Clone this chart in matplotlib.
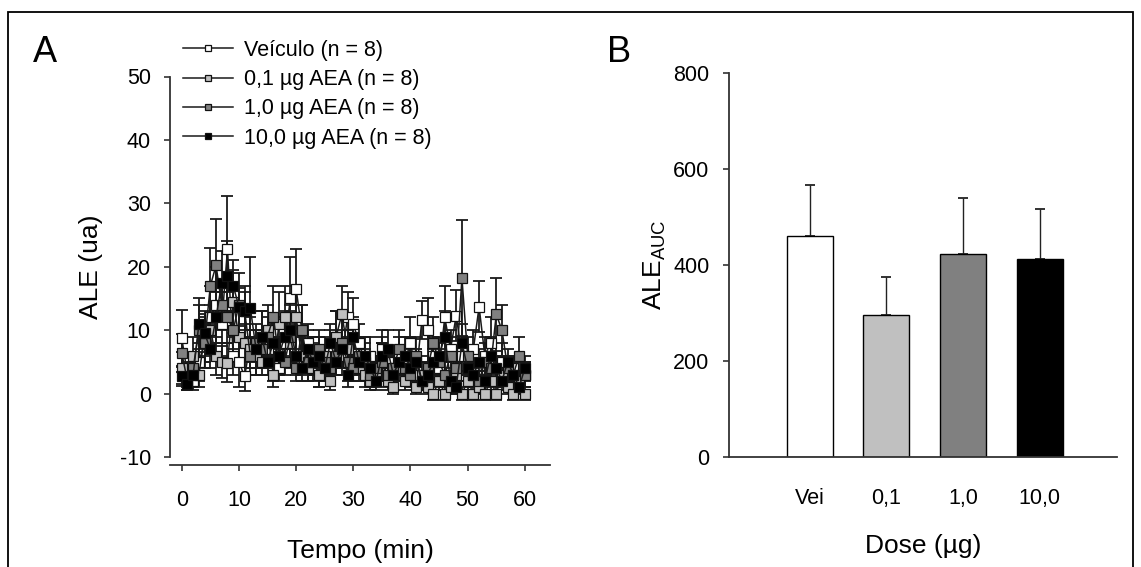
import matplotlib
matplotlib.use("Agg")
import matplotlib.pyplot as plt
import numpy as np
from matplotlib.patches import Rectangle

plt.rcParams['font.family'] = ['Liberation Sans', 'DejaVu Sans']
plt.rcParams['axes.unicode_minus'] = False
plt.rcParams['mathtext.fontset'] = 'custom'
plt.rcParams['mathtext.rm'] = 'Liberation Sans'
plt.rcParams['mathtext.it'] = 'Liberation Sans'

# ---------------- Data ----------------
time_min = list(range(0, 61))

veh_mean = [8.8, 3, 2, 5, 8, 12, 14, 11, 22.8, 6, 5, 2.7, 8, 6, 9, 7, 5, 4, 8, 15,
            16.5, 10, 8, 6, 3, 4, 7, 9, 6, 12, 11, 8, 5, 6, 4, 7, 5, 4, 6, 5,
            8, 3, 11.6, 10, 6, 4, 12, 7, 12.3, 6, 4, 7, 13.7, 6, 8, 4, 5, 3, 4, 2, 3]
veh_sem = [4.4, 2, 1.5, 3, 4, 5, 6, 5, 8.3, 3, 4, 2.3, 4, 3, 4, 3, 3, 2, 4, 6.5,
           6.3, 4, 3, 3, 2, 2, 3, 4, 3, 4, 4, 3, 2, 3, 2, 3, 2, 2, 3, 2,
           4, 2, 3, 5, 3, 2, 5, 3, 4, 3, 2, 3, 4, 3, 4, 2, 3, 2, 2, 1.5, 2]

d01_mean = [4, 2, 6, 3, 9, 10, 6, 5, 4.9, 14.5, 9, 8, 7, 6, 5, 10, 3, 11, 12, 8,
            12, 6, 4, 5, 3, 6, 2, 9, 12.5, 7, 5, 4, 3, 2, 3, 5, 2, 1, 4, 2,
            6, 1, 3, 1, 0, 2, 0, 1, 3, 0, 2, 0, 1, 0, 2, 0, 3, 1, 0, 2, 0]
d01_sem = [2.5, 1.5, 3, 2, 4, 4, 3, 2.5, 3, 5, 4, 3, 3, 3, 2, 4, 2, 5, 5, 3,
           5, 3, 2, 3, 2, 3, 1.5, 4, 4.5, 3, 3, 2, 2, 1.5, 2, 3, 1.5, 1, 2, 1.5,
           3, 1, 2, 1, 1, 1.5, 1, 1, 2, 1, 1.5, 1, 1, 1, 1.5, 1, 2, 1, 1, 1.5, 1]

d10_mean = [6.4, 2, 4, 10, 8, 17, 20.2, 14, 12, 10, 14, 13, 6, 8, 7, 9, 12, 6, 5, 9,
            4, 10, 5, 6, 7, 5, 4, 6, 8, 5, 4, 6, 5, 3, 4, 5, 3, 4, 7, 4,
            3, 6, 2, 4, 8, 5, 3, 6, 4, 18.2, 6, 3, 2, 5, 4, 12.5, 10, 4, 3, 6, 3]
d10_sem = [3, 1.5, 2, 4, 3, 6, 7.3, 4, 4, 3, 5, 4, 3, 3, 3, 3, 5, 3, 2, 4,
           2, 4, 3, 3, 3, 2, 2, 3, 4, 3, 2, 3, 3, 2, 2, 3, 2, 2, 3, 2,
           2, 3, 1.5, 2, 4, 3, 2, 3, 2, 9.1, 3, 2, 1.5, 3, 2, 5.8, 4, 2, 2, 3, 2]

d100_mean = [2.7, 1.5, 3, 11, 9.5, 7, 12, 17.5, 18.5, 17, 13.7, 13, 13.5, 7, 9, 5, 8, 6, 9, 10,
             6, 4, 7, 5, 6, 4, 8, 5, 7, 3, 9, 5, 6, 4, 2, 6, 7, 3, 5, 6,
             4, 5, 2, 3, 5, 6, 9, 2, 1, 8, 4, 3, 5, 2, 6, 4, 2, 5, 3, 1, 4]
d100_sem = [1.5, 1, 2, 4, 3, 3, 4, 5, 5.5, 4, 3, 3, 8, 3, 4, 2, 3, 3, 4, 4,
            3, 2, 3, 2, 3, 2, 3, 2, 3, 2, 3, 2, 3, 2, 1.5, 3, 3, 2, 2, 3,
            2, 2, 1.5, 2, 2, 3, 4, 1.5, 1, 3, 2, 2, 2, 1.5, 3, 2, 1.5, 2, 2, 1, 2]

series_labels = ['Veículo (n = 8)', '0,1 µg AEA (n = 8)', '1,0 µg AEA (n = 8)', '10,0 µg AEA (n = 8)']
series_colors = ['white', '#c0c0c0', '#808080', 'black']

dose_labels = ['Vei', '0,1', '1,0', '10,0']
auc_mean = [460, 296, 422, 412]
auc_sem = [106, 80, 117, 105]
bar_colors = ['white', '#c0c0c0', '#808080', 'black']

# ---------------- Figure ----------------
W, H = 1141, 567
fig = plt.figure(figsize=(W / 100, H / 100), dpi=100)

def fr(x0, y0, x1, y1):
    return [x0 / W, 1 - y1 / H, (x1 - x0) / W, (y1 - y0) / H]

spine_col = '#333333'

# Panel A
axA = fig.add_axes(fr(170.3, 76.5, 550, 457))
means = [veh_mean, d01_mean, d10_mean, d100_mean]
sems = [veh_sem, d01_sem, d10_sem, d100_sem]
handles = []
for m, s, c, lab in zip(means, sems, series_colors, series_labels):
    axA.errorbar(time_min, m, yerr=s, fmt='none', ecolor='#1a1a1a', elinewidth=1.3,
                 capsize=4.0, capthick=1.3, zorder=2)
    h, = axA.plot(time_min, m, '-', color='#1a1a1a', lw=1.1, marker='s', markersize=6.5,
                  markerfacecolor=c, markeredgecolor='#111111', markeredgewidth=0.9,
                  label=lab, zorder=3)
    handles.append(h)
axA.set_xlim(-2, 64.4)
axA.set_ylim(-10, 50)
axA.set_xticks([0, 10, 20, 30, 40, 50, 60])
axA.set_yticks([-10, 0, 10, 20, 30, 40, 50])
for sp in ['top', 'right']:
    axA.spines[sp].set_visible(False)
axA.spines['bottom'].set_position(('outward', 6))
for sp in ['left', 'bottom']:
    axA.spines[sp].set_color(spine_col)
    axA.spines[sp].set_linewidth(1.3)
axA.tick_params(axis='both', direction='out', length=4, width=1.2, color=spine_col,
                labelsize=15.5)
axA.tick_params(axis='y', pad=10)
axA.tick_params(axis='x', pad=14)
axA.set_xlabel('Tempo (min)', fontsize=19, labelpad=20)
axA.set_ylabel('ALE (ua)', fontsize=19, labelpad=12)

leg = axA.legend(handles=handles, loc='upper left', bbox_to_anchor=(183 / W, 1 - 40 / H),
                 bbox_transform=fig.transFigure, frameon=False, fontsize=15.5,
                 handlelength=2.3, handletextpad=0.55, labelspacing=0.38,
                 markerscale=0.6, borderpad=0, borderaxespad=0)

fig.text(33 / W, 1 - 62 / H, 'A', fontsize=26, ha='left', va='baseline')

# Panel B
axB = fig.add_axes(fr(729, 73, 1117, 457))
xpos = np.arange(len(dose_labels))
axB.bar(xpos, auc_mean, width=0.6, color=bar_colors, edgecolor='black', linewidth=1.0, zorder=2)
axB.errorbar(xpos, auc_mean, yerr=[np.zeros(len(auc_sem)), auc_sem], fmt='none',
             ecolor='#222222', elinewidth=1.0, capsize=3.5, capthick=1.3, zorder=1)
axB.set_xlim(-1.05, 4.01)
axB.set_ylim(0, 800)
axB.set_yticks([0, 200, 400, 600, 800])
axB.set_xticks(xpos)
axB.set_xticklabels(dose_labels)
for sp in ['top', 'right']:
    axB.spines[sp].set_visible(False)
for sp in ['left', 'bottom']:
    axB.spines[sp].set_color(spine_col)
    axB.spines[sp].set_linewidth(1.3)
axB.tick_params(axis='y', direction='out', length=4, width=1.2, color=spine_col,
                labelsize=15.5, pad=10)
axB.tick_params(axis='x', length=0, labelsize=15.5, pad=22)
axB.set_xlabel('Dose (µg)', fontsize=19, labelpad=18)
axB.set_ylabel(r'ALE$_{\mathrm{AUC}}$', fontsize=19, labelpad=4)

fig.text(607 / W, 1 - 62 / H, 'B', fontsize=26, ha='left', va='baseline')

# Outer frame
fig.add_artist(Rectangle((8 / W, -0.02), (1133 - 8) / W, 1.02 - 12 / H,
                         transform=fig.transFigure, fill=False, edgecolor='black',
                         linewidth=1.3))

fig.savefig('out.png', dpi=100)
